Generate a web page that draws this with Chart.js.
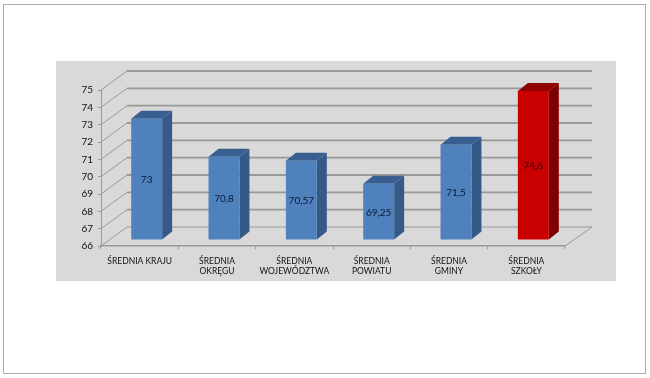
<!DOCTYPE html>
<html><head><meta charset="utf-8">
<style>html,body{margin:0;padding:0;background:#fff}#w{position:absolute;left:0;top:0;width:650px;height:378px}canvas{filter:blur(0.4px)}</style>
<script src="https://cdn.jsdelivr.net/npm/chart.js@4"></script></head>
<body><div id="w"><canvas id="c" width="650" height="378"></canvas></div>
<script>
const categories = [["ŚREDNIA KRAJU"],["ŚREDNIA","OKRĘGU"],["ŚREDNIA","WOJEWÓDZTWA"],["ŚREDNIA","POWIATU"],["ŚREDNIA","GMINY"],["ŚREDNIA","SZKOŁY"]];
const values = [73,70.8,70.57,69.25,71.5,74.6];
const valueLabels = ["73","70,8","70,57","69,25","71,5","74,6"];
const frontColors = ["#4F81BD","#4F81BD","#4F81BD","#4F81BD","#4F81BD","#C80000"];
const sideColors = ["#365A87","#365A87","#365A87","#365A87","#365A87","#7F0000"];
const topColors = ["#385F90","#385F90","#385F90","#385F90","#385F90","#8F0000"];
const labelColors = ["#0A1A38","#0A1A38","#0A1A38","#0A1A38","#0A1A38","#300000"];
const axisMin = 66, axisMax = 75;
const FONT = "Lato";
const GRID = "#999999";
const WALL = {dx:26, dy:19};
const BAR = {dx:7, dy:6, depthX:10, depthY:8};

const frame = {
  id:'frame',
  beforeDraw(ch){
    const g = ch.ctx; g.save();
    g.fillStyle='#fff'; g.fillRect(0,0,650,378);
    g.strokeStyle='#ABABAB'; g.lineWidth=1; g.strokeRect(3.5,4.5,642,369);
    g.fillStyle='#D9D9D9'; g.fillRect(56,61,560,220);
    g.restore();
  }
};
const wall = {
  id:'wall',
  beforeDatasetsDraw(ch){
    const g = ch.ctx, y = ch.scales.y, x = ch.scales.x;
    const L = x.left, R = x.right;
    g.save(); g.strokeStyle=GRID;
    y.ticks.forEach(t=>{
      const p = y.getPixelForValue(t.value);
      g.lineWidth = 1;
      g.beginPath(); g.moveTo(L,p); g.lineTo(L+WALL.dx,p-WALL.dy); g.stroke();
      if(t.value!==y.min){
        g.lineWidth = 1.8;
        g.beginPath(); g.moveTo(L+WALL.dx,p-WALL.dy); g.lineTo(R+WALL.dx+1,p-WALL.dy); g.stroke();
      }
    });
    const b = y.getPixelForValue(y.min);
    g.lineWidth=1;
    g.beginPath(); g.moveTo(L+WALL.dx,b-WALL.dy); g.lineTo(R+WALL.dx+1,b-WALL.dy); g.lineTo(R,b); g.stroke();
    g.restore();
  },
  beforeDatasetDraw(ch){
    const g = ch.ctx; g.save();
    const m = ch.getDatasetMeta(0);
    g.translate(BAR.dx,-BAR.dy);
    m.data.forEach((el,i)=>{
      const {x,y,base,width} = el.getProps(['x','y','base','width'],true);
      const r = x+width/2, l = x-width/2;
      g.fillStyle = sideColors[i];
      g.beginPath(); g.moveTo(r,y); g.lineTo(r+BAR.depthX,y-BAR.depthY); g.lineTo(r+BAR.depthX,base-BAR.depthY); g.lineTo(r,base); g.closePath(); g.fill();
      g.fillStyle = topColors[i];
      g.beginPath(); g.moveTo(l,y); g.lineTo(l+BAR.depthX,y-BAR.depthY); g.lineTo(r+BAR.depthX,y-BAR.depthY); g.lineTo(r,y); g.closePath(); g.fill();
    });
  },
  afterDatasetDraw(ch){
    const g = ch.ctx, m = ch.getDatasetMeta(0);
    g.font = '10px '+FONT; g.textAlign='center'; g.textBaseline='middle';
    m.data.forEach((el,i)=>{
      const {x,y,base} = el.getProps(['x','y','base'],true);
      g.fillStyle = labelColors[i];
      g.fillText(valueLabels[i], x, (y+base)/2+1);
    });
    g.restore();
  }
};
new Chart(document.getElementById('c'),{
  type:'bar',
  data:{labels:categories,datasets:[{data:values,base:axisMin,clip:false,backgroundColor:frontColors,borderWidth:0,barPercentage:0.4,categoryPercentage:1}]},
  plugins:[frame,wall],
  options:{
    responsive:false,animation:false,
    layout:{padding:{left:56,right:85,top:90,bottom:97}},
    plugins:{legend:{display:false},tooltip:{enabled:false},title:{display:false}},
    scales:{
      y:{min:axisMin,max:axisMax,
        ticks:{stepSize:1,color:'#111',font:{family:FONT,size:10},padding:5},
        grid:{drawOnChartArea:false,drawTicks:true,tickLength:3,color:GRID},
        border:{display:true,color:GRID,width:1},
        afterFit(s){s.width=45;}},
      x:{
        ticks:{color:'#111',font:{family:FONT,size:8.5},maxRotation:0,minRotation:0,autoSkip:false,padding:7},
        grid:{drawOnChartArea:false,drawTicks:true,tickLength:3,color:GRID,offset:true},
        border:{display:true,color:GRID,width:1.5},
        afterFit(s){s.height=35;}}
    }
  }
});
</script></body></html>
